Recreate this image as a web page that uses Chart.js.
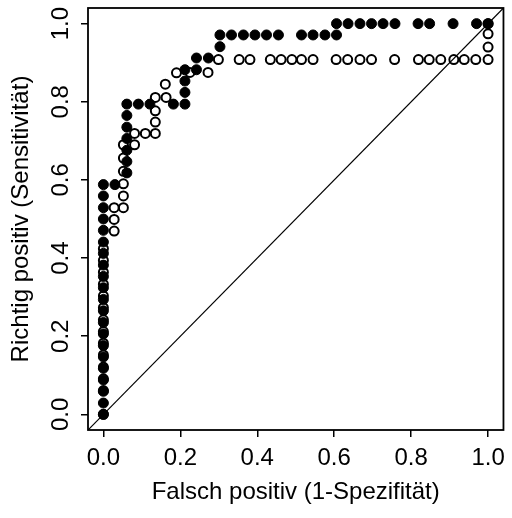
<!DOCTYPE html>
<html>
<head>
<meta charset="utf-8">
<script src="https://cdn.jsdelivr.net/npm/chart.js@4/dist/chart.umd.min.js"></script>
<style>
  body { margin: 0; background: #fff; }
  canvas { display: block; }
</style>
</head>
<body>
<canvas id="roc" width="512" height="518"></canvas>
<script>
// ROC points (false positive rate, true positive rate)
// filled circles
var filledFpr = [
  0, 0, 0, 0, 0, 0, 0, 0, 0, 0, 0, 0, 0, 0, 0, 0, 0, 0, 0, 0, 0,
  0.030, 0.061, 0.061, 0.061, 0.061, 0.061, 0.061, 0.061,
  0.091, 0.121, 0.182, 0.212, 0.212, 0.212, 0.212,
  0.242, 0.242, 0.273, 0.303, 0.303,
  0.333, 0.364, 0.394, 0.424, 0.455, 0.515, 0.545, 0.576, 0.606,
  0.606, 0.636, 0.667, 0.697, 0.727, 0.758, 0.818, 0.848, 0.909, 0.970, 1.0
]
var filledTpr = [
  0, 0.029, 0.059, 0.088, 0.118, 0.147, 0.176, 0.206, 0.235, 0.265, 0.294,
  0.324, 0.353, 0.382, 0.412, 0.441, 0.471, 0.5, 0.529, 0.559, 0.588,
  0.588, 0.618, 0.647, 0.676, 0.706, 0.735, 0.765, 0.794,
  0.794, 0.794, 0.794, 0.794, 0.824, 0.853, 0.882,
  0.882, 0.912, 0.912, 0.941, 0.971,
  0.971, 0.971, 0.971, 0.971, 0.971, 0.971, 0.971, 0.971, 0.971,
  1.0, 1.0, 1.0, 1.0, 1.0, 1.0, 1.0, 1.0, 1.0, 1.0, 1.0
]
// open circles
var openFpr = [
  0, 0, 0, 0, 0, 0, 0, 0, 0, 0, 0, 0, 0, 0,
  0.028, 0.028, 0.028,
  0.052, 0.052, 0.052, 0.052, 0.052, 0.052, 0.081,
  0.081, 0.109, 0.135, 0.135, 0.135, 0.135, 0.163,
  0.161, 0.190, 0.225, 0.272,
  0.299, 0.353, 0.381, 0.434, 0.462, 0.490, 0.515, 0.545, 0.605, 0.635,
  0.667, 0.697, 0.757, 0.819, 0.847, 0.877, 0.911, 0.938, 0.968, 1.0,
  1.0, 1.0, 1.0
]
var openTpr = [
  0, 0.061, 0.091, 0.121, 0.152, 0.182, 0.212, 0.242, 0.273, 0.303, 0.333,
  0.364, 0.394, 0.424,
  0.469, 0.499, 0.529,
  0.529, 0.559, 0.590, 0.622, 0.656, 0.690, 0.690,
  0.719, 0.719, 0.719, 0.748, 0.777, 0.811, 0.811,
  0.845, 0.874, 0.875, 0.875,
  0.908, 0.908, 0.908, 0.908, 0.908, 0.908, 0.908, 0.908, 0.908, 0.908,
  0.908, 0.908, 0.908, 0.908, 0.908, 0.908, 0.908, 0.908, 0.908, 0.908,
  0.940, 0.974, 1.0
]
// reference line y = x across the whole plot region
var diagFpr = [-0.04, 1.04]
var diagTpr = [-0.04, 1.04]
var tickValues = [0, 0.2, 0.4, 0.6, 0.8, 1.0]

var fontFamily = '"Liberation Sans", Arial, Helvetica, sans-serif'
var fontSize = 24
var ink = '#000'

function toPoints(xs, ys) {
  return xs.map((x, i) => ({ x: x, y: ys[i] }))
}

function setTicks(scale) {
  scale.ticks = tickValues.map((v) => ({ value: v }))
}

// box around the plot region plus the rotated y tick labels (as R draws them)
var framePlugin = {
  id: 'frame',
  afterDraw(chart) {
    const ctx = chart.ctx
    const a = chart.chartArea
    ctx.save()
    ctx.strokeStyle = ink
    ctx.lineWidth = 1.8
    ctx.strokeRect(a.left, a.top, a.right - a.left, a.bottom - a.top)
    const ys = chart.scales.y
    ctx.fillStyle = ink
    ctx.font = fontSize + 'px ' + fontFamily
    ctx.textAlign = 'center'
    ctx.textBaseline = 'alphabetic'
    tickValues.forEach((v) => {
      ctx.save()
      ctx.translate(68, ys.getPixelForValue(v))
      ctx.rotate(-Math.PI / 2)
      ctx.fillText(v.toFixed(1), 0, 0)
      ctx.restore()
    })
    ctx.restore()
  },
}

var ctx = document.getElementById('roc').getContext('2d')
var rocChart = new Chart(ctx, {
  type: 'scatter',
  data: {
    datasets: [
      {
        label: 'filled',
        data: toPoints(filledFpr, filledTpr),
        pointStyle: 'circle',
        pointRadius: 5,
        pointBorderWidth: 1,
        pointBackgroundColor: ink,
        pointBorderColor: ink,
      },
      {
        label: 'open',
        data: toPoints(openFpr, openTpr),
        pointStyle: 'circle',
        pointRadius: 4.5,
        pointBorderWidth: 2,
        pointBackgroundColor: 'rgba(0, 0, 0, 0)',
        pointBorderColor: ink,
      },
      {
        label: 'diagonal',
        type: 'line',
        data: toPoints(diagFpr, diagTpr),
        borderColor: ink,
        borderWidth: 1.2,
        pointRadius: 0,
        fill: false,
      },
    ],
  },
  options: {
    responsive: false,
    animation: false,
    devicePixelRatio: 1,
    events: [],
    layout: { padding: { top: 8, right: 4, left: 0, bottom: 0 } },
    plugins: {
      legend: { display: false },
      tooltip: { enabled: false },
    },
    scales: {
      x: {
        type: 'linear',
        min: -0.04,
        max: 1.04,
        afterBuildTicks: setTicks,
        afterFit(scale) {
          scale.height = 88
        },
        border: { display: false },
        grid: {
          drawOnChartArea: false,
          drawTicks: true,
          tickLength: 7,
          color: ink,
          lineWidth: 1.5,
        },
        ticks: {
          padding: 7,
          color: ink,
          font: { family: fontFamily, size: fontSize },
          callback: (v) => v.toFixed(1),
        },
        title: {
          display: true,
          text: 'Falsch positiv (1-Spezifität)',
          color: ink,
          font: { family: fontFamily, size: fontSize },
          padding: { top: 0, bottom: 11 },
        },
      },
      y: {
        type: 'linear',
        min: -0.04,
        max: 1.04,
        afterBuildTicks: setTicks,
        afterFit(scale) {
          scale.width = 88
        },
        border: { display: false },
        grid: {
          drawOnChartArea: false,
          drawTicks: true,
          tickLength: 7,
          color: ink,
          lineWidth: 1.5,
        },
        ticks: { display: false },
        title: {
          display: true,
          text: 'Richtig positiv (Sensitivität)',
          color: ink,
          font: { family: fontFamily, size: fontSize },
          padding: { top: 7, bottom: 0 },
        },
      },
    },
  },
  plugins: [framePlugin],
})
</script>
</body>
</html>
